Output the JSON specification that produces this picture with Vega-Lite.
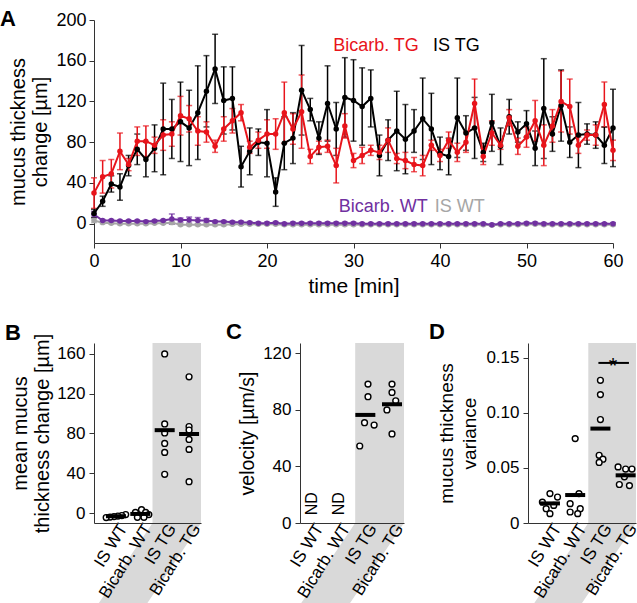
{
"$schema":"https://vega.github.io/schema/vega-lite/v6.json",
"padding":{"left":0,"top":8,"right":0,"bottom":0},
"config":{"font":"Liberation Sans","view":{"stroke":null},
 "axis":{"grid":false,"domainColor":"#333","tickColor":"#333","labelColor":"#000","titleColor":"#000","titleFontWeight":"normal","labelFont":"Liberation Sans","titleFont":"Liberation Sans","labelOverlap":false,"labelFlush":false},
 "title":{"font":"Liberation Sans","fontWeight":"bold","fontSize":22,"anchor":"start","frame":"group","color":"#000"}},
"datasets":{
"ts":[
{"t":0,"g":"IS WT","v":3,"e":2},{"t":1,"g":"IS WT","v":1,"e":1},{"t":2,"g":"IS WT","v":0.5,"e":1},{"t":3,"g":"IS WT","v":0,"e":1},{"t":4,"g":"IS WT","v":0,"e":1},{"t":5,"g":"IS WT","v":0,"e":1},{"t":6,"g":"IS WT","v":0,"e":1},{"t":7,"g":"IS WT","v":0.5,"e":1},{"t":8,"g":"IS WT","v":0.5,"e":1},{"t":9,"g":"IS WT","v":1,"e":1},
{"t":10,"g":"IS WT","v":-1,"e":1},{"t":11,"g":"IS WT","v":-1,"e":1},{"t":12,"g":"IS WT","v":-1,"e":1},{"t":13,"g":"IS WT","v":-1,"e":1},{"t":14,"g":"IS WT","v":-1,"e":1},{"t":15,"g":"IS WT","v":-1,"e":1},{"t":16,"g":"IS WT","v":-0.5,"e":1},{"t":17,"g":"IS WT","v":-0.5,"e":1},{"t":18,"g":"IS WT","v":-0.5,"e":1},{"t":19,"g":"IS WT","v":-0.5,"e":1},
{"t":20,"g":"IS WT","v":-0.5,"e":1},{"t":21,"g":"IS WT","v":-0.5,"e":1},{"t":22,"g":"IS WT","v":-1,"e":1},{"t":23,"g":"IS WT","v":-1,"e":1},{"t":24,"g":"IS WT","v":-1,"e":1},{"t":25,"g":"IS WT","v":-1,"e":1},{"t":26,"g":"IS WT","v":-1,"e":1},{"t":27,"g":"IS WT","v":-1,"e":1},{"t":28,"g":"IS WT","v":-1,"e":1},{"t":29,"g":"IS WT","v":-1,"e":1},
{"t":30,"g":"IS WT","v":-1,"e":1},{"t":31,"g":"IS WT","v":-1,"e":1},{"t":32,"g":"IS WT","v":-1,"e":1},{"t":33,"g":"IS WT","v":-1,"e":1},{"t":34,"g":"IS WT","v":-1,"e":1},{"t":35,"g":"IS WT","v":-1,"e":1},{"t":36,"g":"IS WT","v":-1,"e":1},{"t":37,"g":"IS WT","v":-1,"e":1},{"t":38,"g":"IS WT","v":-1,"e":1},{"t":39,"g":"IS WT","v":-1,"e":1},
{"t":40,"g":"IS WT","v":-1,"e":1},{"t":41,"g":"IS WT","v":-1,"e":1},{"t":42,"g":"IS WT","v":-1,"e":1},{"t":43,"g":"IS WT","v":-1,"e":1},{"t":44,"g":"IS WT","v":-1,"e":1},{"t":45,"g":"IS WT","v":-1,"e":1},{"t":46,"g":"IS WT","v":-1.5,"e":1},{"t":47,"g":"IS WT","v":-1,"e":1},{"t":48,"g":"IS WT","v":-1,"e":1},{"t":49,"g":"IS WT","v":-1,"e":1},
{"t":50,"g":"IS WT","v":-0.5,"e":1},{"t":51,"g":"IS WT","v":-0.5,"e":1},{"t":52,"g":"IS WT","v":-1,"e":1},{"t":53,"g":"IS WT","v":-1,"e":1},{"t":54,"g":"IS WT","v":-1,"e":1},{"t":55,"g":"IS WT","v":-1,"e":1},{"t":56,"g":"IS WT","v":-1,"e":1},{"t":57,"g":"IS WT","v":-1,"e":1},{"t":58,"g":"IS WT","v":-1,"e":1},{"t":59,"g":"IS WT","v":-1,"e":1},{"t":60,"g":"IS WT","v":-1,"e":1},
{"t":0,"g":"Bicarb. WT","v":9,"e":3},{"t":1,"g":"Bicarb. WT","v":3,"e":1},{"t":2,"g":"Bicarb. WT","v":3,"e":1},{"t":3,"g":"Bicarb. WT","v":2.5,"e":1},{"t":4,"g":"Bicarb. WT","v":2.5,"e":1},{"t":5,"g":"Bicarb. WT","v":2.5,"e":1},{"t":6,"g":"Bicarb. WT","v":2,"e":1},{"t":7,"g":"Bicarb. WT","v":2.5,"e":1},{"t":8,"g":"Bicarb. WT","v":3,"e":1},{"t":9,"g":"Bicarb. WT","v":4.5,"e":5},
{"t":10,"g":"Bicarb. WT","v":3.5,"e":2},{"t":11,"g":"Bicarb. WT","v":3.5,"e":3},{"t":12,"g":"Bicarb. WT","v":3,"e":3},{"t":13,"g":"Bicarb. WT","v":3,"e":2},{"t":14,"g":"Bicarb. WT","v":2,"e":1},{"t":15,"g":"Bicarb. WT","v":2,"e":1},{"t":16,"g":"Bicarb. WT","v":1.5,"e":1},{"t":17,"g":"Bicarb. WT","v":1.5,"e":1},{"t":18,"g":"Bicarb. WT","v":1,"e":1},{"t":19,"g":"Bicarb. WT","v":0.5,"e":1},
{"t":20,"g":"Bicarb. WT","v":0.5,"e":1},{"t":21,"g":"Bicarb. WT","v":1,"e":1},{"t":22,"g":"Bicarb. WT","v":0,"e":1},{"t":23,"g":"Bicarb. WT","v":0.5,"e":1},{"t":24,"g":"Bicarb. WT","v":0.5,"e":1},{"t":25,"g":"Bicarb. WT","v":0.5,"e":1},{"t":26,"g":"Bicarb. WT","v":0.5,"e":1},{"t":27,"g":"Bicarb. WT","v":0.5,"e":1},{"t":28,"g":"Bicarb. WT","v":0.5,"e":1},{"t":29,"g":"Bicarb. WT","v":0.5,"e":1},
{"t":30,"g":"Bicarb. WT","v":0.5,"e":1},{"t":31,"g":"Bicarb. WT","v":0,"e":1},{"t":32,"g":"Bicarb. WT","v":0,"e":1},{"t":33,"g":"Bicarb. WT","v":0,"e":1},{"t":34,"g":"Bicarb. WT","v":0,"e":1},{"t":35,"g":"Bicarb. WT","v":0,"e":1},{"t":36,"g":"Bicarb. WT","v":0,"e":1},{"t":37,"g":"Bicarb. WT","v":0,"e":1},{"t":38,"g":"Bicarb. WT","v":0,"e":1},{"t":39,"g":"Bicarb. WT","v":0,"e":1},
{"t":40,"g":"Bicarb. WT","v":0,"e":1},{"t":41,"g":"Bicarb. WT","v":0,"e":1},{"t":42,"g":"Bicarb. WT","v":0,"e":1},{"t":43,"g":"Bicarb. WT","v":0,"e":1},{"t":44,"g":"Bicarb. WT","v":0,"e":1},{"t":45,"g":"Bicarb. WT","v":0,"e":1},{"t":46,"g":"Bicarb. WT","v":-1,"e":1},{"t":47,"g":"Bicarb. WT","v":0,"e":1},{"t":48,"g":"Bicarb. WT","v":0,"e":1},{"t":49,"g":"Bicarb. WT","v":0,"e":1},
{"t":50,"g":"Bicarb. WT","v":0.5,"e":1},{"t":51,"g":"Bicarb. WT","v":0.5,"e":1},{"t":52,"g":"Bicarb. WT","v":0,"e":1},{"t":53,"g":"Bicarb. WT","v":0,"e":1},{"t":54,"g":"Bicarb. WT","v":0,"e":1},{"t":55,"g":"Bicarb. WT","v":0,"e":1},{"t":56,"g":"Bicarb. WT","v":0,"e":1},{"t":57,"g":"Bicarb. WT","v":0,"e":1},{"t":58,"g":"Bicarb. WT","v":0,"e":1},{"t":59,"g":"Bicarb. WT","v":0,"e":1},{"t":60,"g":"Bicarb. WT","v":0,"e":1},
{"t":0,"g":"IS TG","v":10,"e":4},{"t":1,"g":"IS TG","v":22,"e":5},{"t":2,"g":"IS TG","v":39,"e":8},{"t":3,"g":"IS TG","v":36,"e":13},{"t":4,"g":"IS TG","v":57,"e":10},{"t":5,"g":"IS TG","v":73,"e":15},{"t":6,"g":"IS TG","v":63,"e":17},{"t":7,"g":"IS TG","v":74,"e":23},{"t":8,"g":"IS TG","v":93,"e":45},{"t":9,"g":"IS TG","v":93,"e":29},
{"t":10,"g":"IS TG","v":100,"e":39},{"t":11,"g":"IS TG","v":94,"e":37},{"t":12,"g":"IS TG","v":109,"e":46},{"t":13,"g":"IS TG","v":130,"e":35},{"t":14,"g":"IS TG","v":152,"e":34},{"t":15,"g":"IS TG","v":121,"e":33},{"t":16,"g":"IS TG","v":123,"e":31},{"t":17,"g":"IS TG","v":56,"e":20},{"t":18,"g":"IS TG","v":71,"e":23},{"t":19,"g":"IS TG","v":80,"e":13},
{"t":20,"g":"IS TG","v":79,"e":33},{"t":21,"g":"IS TG","v":31,"e":14},{"t":22,"g":"IS TG","v":79,"e":26},{"t":23,"g":"IS TG","v":84,"e":25},{"t":24,"g":"IS TG","v":131,"e":44},{"t":25,"g":"IS TG","v":112,"e":11},{"t":26,"g":"IS TG","v":84,"e":16},{"t":27,"g":"IS TG","v":118,"e":37},{"t":28,"g":"IS TG","v":93,"e":26},{"t":29,"g":"IS TG","v":124,"e":39},
{"t":30,"g":"IS TG","v":121,"e":40},{"t":31,"g":"IS TG","v":115,"e":38},{"t":32,"g":"IS TG","v":123,"e":28},{"t":33,"g":"IS TG","v":67,"e":20},{"t":34,"g":"IS TG","v":82,"e":20},{"t":35,"g":"IS TG","v":91,"e":39},{"t":36,"g":"IS TG","v":83,"e":34},{"t":37,"g":"IS TG","v":91,"e":21},{"t":38,"g":"IS TG","v":103,"e":40},{"t":39,"g":"IS TG","v":93,"e":35},
{"t":40,"g":"IS TG","v":69,"e":16},{"t":41,"g":"IS TG","v":66,"e":18},{"t":42,"g":"IS TG","v":104,"e":39},{"t":43,"g":"IS TG","v":89,"e":17},{"t":44,"g":"IS TG","v":94,"e":30},{"t":45,"g":"IS TG","v":70,"e":9},{"t":46,"g":"IS TG","v":99,"e":28},{"t":47,"g":"IS TG","v":76,"e":18},{"t":48,"g":"IS TG","v":105,"e":17},{"t":49,"g":"IS TG","v":90,"e":10},
{"t":50,"g":"IS TG","v":98,"e":13},{"t":51,"g":"IS TG","v":74,"e":17},{"t":52,"g":"IS TG","v":113,"e":49},{"t":53,"g":"IS TG","v":88,"e":17},{"t":54,"g":"IS TG","v":116,"e":35},{"t":55,"g":"IS TG","v":80,"e":15},{"t":56,"g":"IS TG","v":87,"e":32},{"t":57,"g":"IS TG","v":88,"e":10},{"t":58,"g":"IS TG","v":87,"e":13},{"t":59,"g":"IS TG","v":77,"e":18},{"t":60,"g":"IS TG","v":94,"e":38},
{"t":0,"g":"Bicarb. TG","v":30,"e":15},{"t":1,"g":"Bicarb. TG","v":46,"e":16},{"t":2,"g":"Bicarb. TG","v":49,"e":14},{"t":3,"g":"Bicarb. TG","v":71,"e":18},{"t":4,"g":"Bicarb. TG","v":58,"e":6},{"t":5,"g":"Bicarb. TG","v":81,"e":14},{"t":6,"g":"Bicarb. TG","v":81,"e":15},{"t":7,"g":"Bicarb. TG","v":77,"e":8},{"t":8,"g":"Bicarb. TG","v":87,"e":15},{"t":9,"g":"Bicarb. TG","v":88,"e":12},
{"t":10,"g":"Bicarb. TG","v":106,"e":19},{"t":11,"g":"Bicarb. TG","v":103,"e":13},{"t":12,"g":"Bicarb. TG","v":91,"e":14},{"t":13,"g":"Bicarb. TG","v":90,"e":10},{"t":14,"g":"Bicarb. TG","v":76,"e":6},{"t":15,"g":"Bicarb. TG","v":93,"e":12},{"t":16,"g":"Bicarb. TG","v":101,"e":12},{"t":17,"g":"Bicarb. TG","v":109,"e":8},{"t":18,"g":"Bicarb. TG","v":75,"e":6},{"t":19,"g":"Bicarb. TG","v":82,"e":8},
{"t":20,"g":"Bicarb. TG","v":88,"e":14},{"t":21,"g":"Bicarb. TG","v":88,"e":15},{"t":22,"g":"Bicarb. TG","v":109,"e":30},{"t":23,"g":"Bicarb. TG","v":93,"e":15},{"t":24,"g":"Bicarb. TG","v":110,"e":36},{"t":25,"g":"Bicarb. TG","v":66,"e":7},{"t":26,"g":"Bicarb. TG","v":75,"e":6},{"t":27,"g":"Bicarb. TG","v":76,"e":6},{"t":28,"g":"Bicarb. TG","v":57,"e":17},{"t":29,"g":"Bicarb. TG","v":96,"e":12},
{"t":30,"g":"Bicarb. TG","v":62,"e":7},{"t":31,"g":"Bicarb. TG","v":67,"e":8},{"t":32,"g":"Bicarb. TG","v":72,"e":5},{"t":33,"g":"Bicarb. TG","v":70,"e":7},{"t":34,"g":"Bicarb. TG","v":82,"e":12},{"t":35,"g":"Bicarb. TG","v":64,"e":5},{"t":36,"g":"Bicarb. TG","v":62,"e":8},{"t":37,"g":"Bicarb. TG","v":58,"e":7},{"t":38,"g":"Bicarb. TG","v":57,"e":10},{"t":39,"g":"Bicarb. TG","v":77,"e":5},
{"t":40,"g":"Bicarb. TG","v":67,"e":6},{"t":41,"g":"Bicarb. TG","v":82,"e":8},{"t":42,"g":"Bicarb. TG","v":70,"e":9},{"t":43,"g":"Bicarb. TG","v":80,"e":10},{"t":44,"g":"Bicarb. TG","v":118,"e":24},{"t":45,"g":"Bicarb. TG","v":66,"e":8},{"t":46,"g":"Bicarb. TG","v":89,"e":12},{"t":47,"g":"Bicarb. TG","v":77,"e":4},{"t":48,"g":"Bicarb. TG","v":104,"e":8},{"t":49,"g":"Bicarb. TG","v":76,"e":8},
{"t":50,"g":"Bicarb. TG","v":85,"e":10},{"t":51,"g":"Bicarb. TG","v":101,"e":20},{"t":52,"g":"Bicarb. TG","v":77,"e":20},{"t":53,"g":"Bicarb. TG","v":96,"e":16},{"t":54,"g":"Bicarb. TG","v":120,"e":30},{"t":55,"g":"Bicarb. TG","v":115,"e":27},{"t":56,"g":"Bicarb. TG","v":77,"e":8},{"t":57,"g":"Bicarb. TG","v":87,"e":5},{"t":58,"g":"Bicarb. TG","v":87,"e":10},{"t":59,"g":"Bicarb. TG","v":117,"e":22},{"t":60,"g":"Bicarb. TG","v":72,"e":10}
],
"cats":[{"p":1,"lab":"IS WT"},{"p":2,"lab":"Bicarb. WT"},{"p":3,"lab":"IS TG"},{"p":4,"lab":"Bicarb. TG"}],
"B":[
{"g":"IS WT","pos":1,"rep":1,"val":-1.5},{"g":"IS WT","pos":1,"rep":2,"val":-2.5},{"g":"IS WT","pos":1,"rep":3,"val":-3},{"g":"IS WT","pos":1,"rep":4,"val":-3.5},{"g":"IS WT","pos":1,"rep":5,"val":-4},{"g":"IS WT","pos":1,"rep":6,"val":-4.5},
{"g":"Bicarb. WT","pos":2,"rep":1,"val":3.4},{"g":"Bicarb. WT","pos":2,"rep":2,"val":0.7},{"g":"Bicarb. WT","pos":2,"rep":3,"val":0.7},{"g":"Bicarb. WT","pos":2,"rep":4,"val":-1.5},{"g":"Bicarb. WT","pos":2,"rep":5,"val":-4.3},{"g":"Bicarb. WT","pos":2,"rep":6,"val":-4.3},
{"g":"IS TG","pos":3,"rep":1,"val":160},{"g":"IS TG","pos":3,"rep":2,"val":89.6},{"g":"IS TG","pos":3,"rep":3,"val":80.5},{"g":"IS TG","pos":3,"rep":4,"val":70},{"g":"IS TG","pos":3,"rep":5,"val":61},{"g":"IS TG","pos":3,"rep":6,"val":39},
{"g":"Bicarb. TG","pos":4,"rep":1,"val":137},{"g":"Bicarb. TG","pos":4,"rep":2,"val":87},{"g":"Bicarb. TG","pos":4,"rep":3,"val":83.5},{"g":"Bicarb. TG","pos":4,"rep":4,"val":74},{"g":"Bicarb. TG","pos":4,"rep":5,"val":64},{"g":"Bicarb. TG","pos":4,"rep":6,"val":31.5}
],
"C":[
{"g":"IS TG","pos":3,"rep":1,"val":98.3},{"g":"IS TG","pos":3,"rep":2,"val":89.4},{"g":"IS TG","pos":3,"rep":3,"val":71},{"g":"IS TG","pos":3,"rep":4,"val":69.3},{"g":"IS TG","pos":3,"rep":5,"val":54.5},
{"g":"Bicarb. TG","pos":4,"rep":1,"val":98.3},{"g":"Bicarb. TG","pos":4,"rep":2,"val":92.4},{"g":"Bicarb. TG","pos":4,"rep":3,"val":86.5},{"g":"Bicarb. TG","pos":4,"rep":4,"val":80},{"g":"Bicarb. TG","pos":4,"rep":5,"val":63}
],
"D":[
{"g":"IS WT","pos":1,"rep":1,"val":0.0267},{"g":"IS WT","pos":1,"rep":2,"val":0.0236},{"g":"IS WT","pos":1,"rep":3,"val":0.019},{"g":"IS WT","pos":1,"rep":4,"val":0.016},{"g":"IS WT","pos":1,"rep":5,"val":0.013},{"g":"IS WT","pos":1,"rep":6,"val":0.0085},
{"g":"Bicarb. WT","pos":2,"rep":1,"val":0.0767},{"g":"Bicarb. WT","pos":2,"rep":2,"val":0.0267},{"g":"Bicarb. WT","pos":2,"rep":3,"val":0.0176},{"g":"Bicarb. WT","pos":2,"rep":4,"val":0.013},{"g":"Bicarb. WT","pos":2,"rep":5,"val":0.01},{"g":"Bicarb. WT","pos":2,"rep":6,"val":0.0085},
{"g":"IS TG","pos":3,"rep":1,"val":0.1297},{"g":"IS TG","pos":3,"rep":2,"val":0.1167},{"g":"IS TG","pos":3,"rep":3,"val":0.094},{"g":"IS TG","pos":3,"rep":4,"val":0.0615},{"g":"IS TG","pos":3,"rep":5,"val":0.058},{"g":"IS TG","pos":3,"rep":6,"val":0.055},
{"g":"Bicarb. TG","pos":4,"rep":1,"val":0.051},{"g":"Bicarb. TG","pos":4,"rep":2,"val":0.049},{"g":"Bicarb. TG","pos":4,"rep":3,"val":0.049},{"g":"Bicarb. TG","pos":4,"rep":4,"val":0.042},{"g":"Bicarb. TG","pos":4,"rep":5,"val":0.035},{"g":"Bicarb. TG","pos":4,"rep":6,"val":0.034}
]},
"concat":[
{"title":{"text":"A","dx":-94,"offset":-20},
 "width":519,"height":223,
 "layer":[
  {"data":{"name":"ts"},"mark":{"type":"errorbar","ticks":{"size":6},"thickness":1.5},
   "encoding":{
    "x":{"field":"t","type":"quantitative","scale":{"domain":[0,60],"nice":false,"zero":false},"axis":{"values":[0,10,20,30,40,50,60],"title":"time [min]","titleFontSize":21,"labelFontSize":18,"tickSize":5,"labelPadding":4,"titlePadding":5}},
    "y":{"field":"v","type":"quantitative","scale":{"domain":[-19,200],"nice":false,"zero":false},"axis":{"values":[0,40,80,120,160,200],"title":["mucus thickness","change [µm]"],"titleFontSize":20,"titleLineHeight":22,"labelFontSize":18,"tickSize":5,"labelPadding":3,"titlePadding":5}},
    "yError":{"field":"e"},
    "color":{"field":"g","type":"nominal","scale":{"domain":["IS WT","Bicarb. WT","IS TG","Bicarb. TG"],"range":["#a6a6a6","#7030a0","#000000","#e8141b"]},"legend":null}}},
  {"data":{"name":"ts"},"mark":{"type":"line","strokeWidth":2},
   "encoding":{"x":{"field":"t","type":"quantitative"},"y":{"field":"v","type":"quantitative"},"color":{"field":"g","type":"nominal","legend":null}}},
  {"data":{"name":"ts"},"mark":{"type":"circle","size":30,"opacity":1},
   "encoding":{"x":{"field":"t","type":"quantitative"},"y":{"field":"v","type":"quantitative"},"color":{"field":"g","type":"nominal","legend":null}}},
  {"data":{"values":[{}]},"mark":{"type":"text","text":"Bicarb. TG","align":"left","baseline":"alphabetic","fontSize":18,"color":"#e8141b"},"encoding":{"x":{"datum":27.65},"y":{"datum":169.6}}},
  {"data":{"values":[{}]},"mark":{"type":"text","text":"IS TG","align":"left","baseline":"alphabetic","fontSize":18,"color":"#000000"},"encoding":{"x":{"datum":39.2},"y":{"datum":169.6}}},
  {"data":{"values":[{}]},"mark":{"type":"text","text":"Bicarb. WT","align":"left","baseline":"alphabetic","fontSize":18,"color":"#7030a0"},"encoding":{"x":{"datum":28.3},"y":{"datum":11.5}}},
  {"data":{"values":[{}]},"mark":{"type":"text","text":"IS WT","align":"left","baseline":"alphabetic","fontSize":18,"color":"#a6a6a6"},"encoding":{"x":{"datum":39.4},"y":{"datum":11.5}}}
 ]},
{"hconcat":[
 {"title":{"text":"B","dx":-89,"offset":-12},
  "width":107,"height":180,
  "layer":[
   {"data":{"values":[{"yy":171,"xa":2.5,"xb":4.49},{"yy":-10,"xa":2.5,"xb":4.49},{"yy":-100,"xa":0.04,"xb":2.03}]},
    "mark":{"type":"area","orient":"horizontal","color":"#d9d9d9","clip":false},
    "encoding":{
     "y":{"field":"yy","type":"quantitative","scale":{"domain":[-10,171],"nice":false,"zero":false},"axis":{"values":[0,40,80,120,160],"title":["mean mucus","thickness change [µm]"],"titleFontSize":20,"titleLineHeight":22,"labelFontSize":17,"tickSize":5,"labelPadding":4,"titlePadding":4}},
     "x":{"field":"xa","type":"quantitative","scale":{"domain":[0.1,4.49],"nice":false,"zero":false},"axis":{"title":null,"labels":false,"ticks":false,"zindex":1}},
     "x2":{"field":"xb"}}},
   {"data":{"name":"B"},"transform":[{"calculate":"datum.pos + [[0.4,0.24,0.08,-0.08,-0.24,-0.4],[0.05,-0.2,0.22,0.35,-0.12,0.15],[0,0,0,0,0,0],[0,0,0,0,0,0]][datum.pos-1][datum.rep-1]","as":"xj"}],
    "mark":{"type":"circle","fill":"white","stroke":"black","strokeWidth":1.4,"size":34,"opacity":1},
    "encoding":{"x":{"field":"xj","type":"quantitative","title":null},"y":{"field":"val","type":"quantitative"}}},
   {"data":{"name":"B"},"mark":{"type":"tick","orient":"horizontal","size":20,"thickness":4,"color":"black"},
    "encoding":{"x":{"field":"pos","type":"quantitative","title":null},"y":{"aggregate":"mean","field":"val","type":"quantitative"}}},
   {"data":{"name":"cats"},"mark":{"type":"text","angle":302,"align":"right","baseline":"middle","fontSize":17,"dx":2,"dy":8},
    "encoding":{"x":{"field":"p","type":"quantitative","title":null},"y":{"datum":-10},"text":{"field":"lab"}}}
  ]},
 {"title":{"text":"C","dx":-74,"offset":-1},
  "width":104,"height":180,
  "layer":[
   {"data":{"values":[{"yy":127.4,"xa":2.62,"xb":4.45},{"yy":0,"xa":2.62,"xb":4.45},{"yy":-63,"xa":0.37,"xb":2.2}]},
    "mark":{"type":"area","orient":"horizontal","color":"#d9d9d9","clip":false},
    "encoding":{
     "y":{"field":"yy","type":"quantitative","scale":{"domain":[0,127.4],"nice":false,"zero":false},"axis":{"values":[0,40,80,120],"title":"velocity [µm/s]","titleFontSize":19.5,"labelFontSize":17,"tickSize":5,"labelPadding":4,"titlePadding":5}},
     "x":{"field":"xa","type":"quantitative","scale":{"domain":[0.55,4.45],"nice":false,"zero":false},"axis":{"title":null,"labels":false,"ticks":false,"zindex":1}},
     "x2":{"field":"xb"}}},
   {"data":{"name":"C"},"transform":[{"calculate":"datum.pos + [[0.1,0.1,-0.03,0.33,-0.21],[0,0,0.14,-0.19,0]][datum.pos-3][datum.rep-1]","as":"xj"}],
    "mark":{"type":"circle","fill":"white","stroke":"black","strokeWidth":1.4,"size":34,"opacity":1},
    "encoding":{"x":{"field":"xj","type":"quantitative","title":null},"y":{"field":"val","type":"quantitative"}}},
   {"data":{"name":"C"},"mark":{"type":"tick","orient":"horizontal","size":20,"thickness":4,"color":"black"},
    "encoding":{"x":{"field":"pos","type":"quantitative","title":null},"y":{"aggregate":"mean","field":"val","type":"quantitative"}}},
   {"data":{"values":[{"p":1},{"p":2}]},"mark":{"type":"text","text":"ND","angle":270,"align":"left","baseline":"middle","fontSize":16},
    "encoding":{"x":{"field":"p","type":"quantitative","title":null},"y":{"datum":5.5}}},
   {"data":{"name":"cats"},"mark":{"type":"text","angle":302,"align":"right","baseline":"middle","fontSize":17,"dx":2,"dy":8},
    "encoding":{"x":{"field":"p","type":"quantitative","title":null},"y":{"datum":0},"text":{"field":"lab"}}}
  ]},
 {"title":{"text":"D","dx":-99,"offset":-1},
  "width":108,"height":180,
  "layer":[
   {"data":{"values":[{"yy":0.1636,"xa":2.52,"xb":4.41},{"yy":0,"xa":2.52,"xb":4.41},{"yy":-0.081,"xa":0.14,"xb":2.03}]},
    "mark":{"type":"area","orient":"horizontal","color":"#d9d9d9","clip":false},
    "encoding":{
     "y":{"field":"yy","type":"quantitative","scale":{"domain":[0,0.1636],"nice":false,"zero":false},"axis":{"values":[0,0.05,0.1,0.15],"labelExpr":"datum.value == 0 ? '0' : format(datum.value, '.2f')","title":["mucus thickness","variance"],"titleFontSize":19,"titleLineHeight":23,"labelFontSize":17,"tickSize":5,"labelPadding":4,"titlePadding":6}},
     "x":{"field":"xa","type":"quantitative","scale":{"domain":[0.13,4.41],"nice":false,"zero":false},"axis":{"title":null,"labels":false,"ticks":false,"zindex":1}},
     "x2":{"field":"xb"}}},
   {"data":{"name":"D"},"transform":[{"calculate":"datum.pos + [[0,0.3,-0.3,0.15,-0.15,0],[0,0.15,-0.2,0.2,-0.2,0.1],[0,0,0,-0.05,0.1,-0.05],[-0.3,0,0.25,-0.05,-0.25,0.15]][datum.pos-1][datum.rep-1]","as":"xj"}],
    "mark":{"type":"circle","fill":"white","stroke":"black","strokeWidth":1.4,"size":34,"opacity":1},
    "encoding":{"x":{"field":"xj","type":"quantitative","title":null},"y":{"field":"val","type":"quantitative"}}},
   {"data":{"name":"D"},"mark":{"type":"tick","orient":"horizontal","size":20,"thickness":4,"color":"black"},
    "encoding":{"x":{"field":"pos","type":"quantitative","title":null},"y":{"aggregate":"mean","field":"val","type":"quantitative"}}},
   {"data":{"values":[{}]},"mark":{"type":"rule","strokeWidth":2,"color":"black"},
    "encoding":{"x":{"datum":2.92},"x2":{"datum":4.13},"y":{"datum":0.1455}}},
   {"data":{"values":[{}]},"mark":{"type":"text","text":"*","fontSize":22,"baseline":"alphabetic","dy":10},
    "encoding":{"x":{"datum":3.5},"y":{"datum":0.1455}}},
   {"data":{"name":"cats"},"mark":{"type":"text","angle":302,"align":"right","baseline":"middle","fontSize":17,"dx":2,"dy":8},
    "encoding":{"x":{"field":"p","type":"quantitative","title":null},"y":{"datum":0},"text":{"field":"lab"}}}
  ]}
 ],"spacing":22}
],
"columns":1,
"align":"none",
"spacing":25
}
